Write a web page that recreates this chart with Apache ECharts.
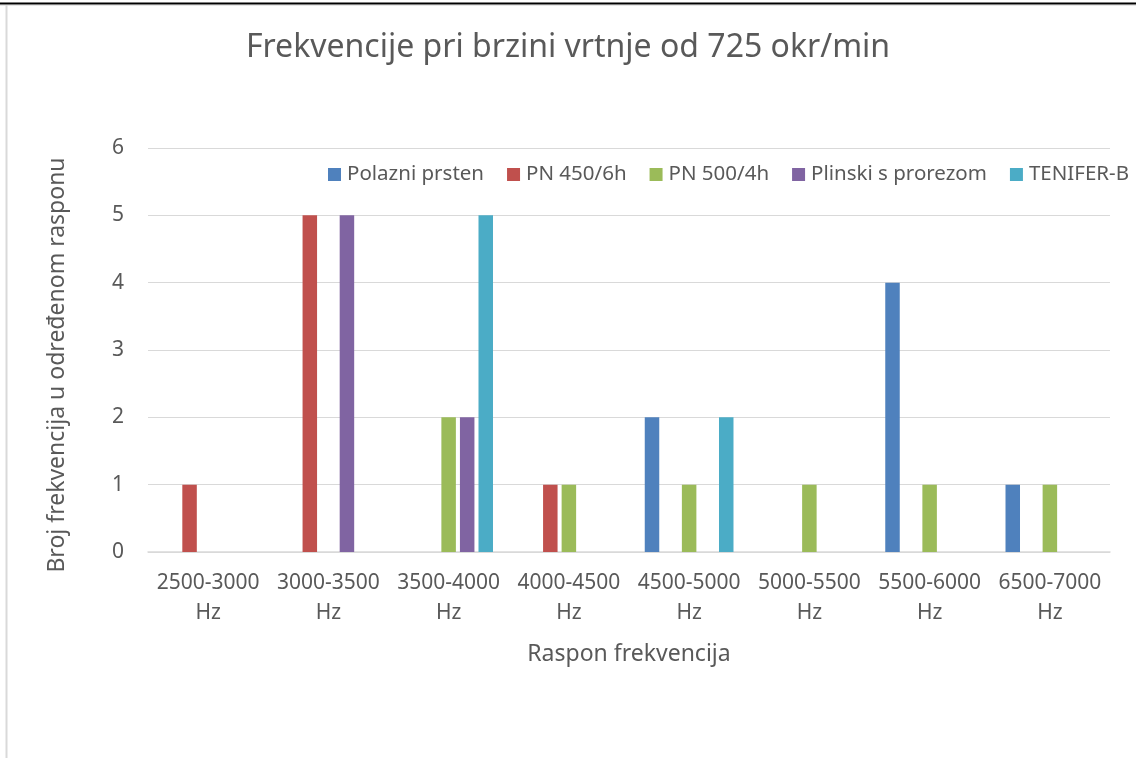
<!DOCTYPE html>
<html>
<head>
<meta charset="utf-8">
<script src="https://cdn.jsdelivr.net/npm/echarts@6/dist/echarts.min.js"></script>
<style>
  html, body { margin: 0; padding: 0; background: #ffffff; }
  #chart { width: 1136px; height: 758px; }
</style>
</head>
<body>
<div id="chart"></div>
<script>
// Frequency ranges (categories)
const categories = ['2500-3000\nHz', '3000-3500\nHz', '3500-4000\nHz', '4000-4500\nHz',
                    '4500-5000\nHz', '5000-5500\nHz', '5500-6000\nHz', '6500-7000\nHz'];

// Count of frequencies per range for each ring variant
const polazniPrsten   = [0, 0, 0, 0, 2, 0, 4, 1];
const pn450_6h        = [1, 5, 0, 1, 0, 0, 0, 0];
const pn500_4h        = [0, 0, 2, 1, 1, 1, 1, 1];
const plinskiProrez   = [0, 5, 2, 0, 0, 0, 0, 0];
const teniferB        = [0, 0, 5, 0, 2, 0, 0, 0];

const seriesNames  = ['Polazni prsten', 'PN 450/6h', 'PN 500/4h', 'Plinski s prorezom', 'TENIFER-B'];
const seriesData   = [polazniPrsten, pn450_6h, pn500_4h, plinskiProrez, teniferB];
const seriesColors = ['#4f81bd', '#c0504d', '#9bbb59', '#8064a2', '#4bacc6'];

const yTicks = { min: 0, max: 6, interval: 1 };

const textColor = '#595959';
const fontFam = '"Noto Sans", "Open Sans", sans-serif';

const chart = echarts.init(document.getElementById('chart'), null, { renderer: 'canvas' });

chart.setOption({
  backgroundColor: '#ffffff',
  animation: false,
  textStyle: { fontFamily: fontFam },
  title: {
    text: 'Frekvencije pri brzini vrtnje od 725 okr/min',
    left: 'center',
    top: 27,
    textStyle: { fontFamily: fontFam, fontSize: 32, fontWeight: 'normal', color: textColor }
  },
  legend: {
    data: seriesNames,
    left: 323,
    top: 159,
    itemWidth: 13,
    itemHeight: 13,
    itemGap: 23,
    icon: 'rect',
    textStyle: { fontFamily: fontFam, fontSize: 20.5, color: textColor, padding: [0, 0, 0, 1] }
  },
  grid: { left: 148, right: 26, top: 148, bottom: 206, containLabel: false },
  xAxis: {
    type: 'category',
    data: categories,
    name: 'Raspon frekvencija',
    nameLocation: 'middle',
    nameGap: 91,
    nameTextStyle: { fontFamily: fontFam, fontSize: 23, color: textColor },
    axisLine: { lineStyle: { color: '#d9d9d9', width: 1.5 } },
    axisTick: { show: false },
    axisLabel: { fontFamily: fontFam, fontSize: 21, color: textColor, lineHeight: 30, margin: 16, interval: 0 }
  },
  yAxis: {
    type: 'value',
    min: yTicks.min,
    max: yTicks.max,
    interval: yTicks.interval,
    name: 'Broj frekvencija u određenom rasponu',
    nameLocation: 'middle',
    nameGap: 79,
    nameTextStyle: { fontFamily: fontFam, fontSize: 23, color: textColor, padding: [0, 30, 0, 0] },
    axisLine: { show: false },
    axisTick: { show: false },
    splitLine: { lineStyle: { color: '#d9d9d9', width: 1 } },
    axisLabel: { fontFamily: fontFam, fontSize: 21, color: textColor, margin: 24 }
  },
  series: seriesNames.map((name, i) => ({
    name: name,
    type: 'bar',
    data: seriesData[i],
    barWidth: 14.5,
    barGap: '28%',
    itemStyle: { color: seriesColors[i] }
  })),
  graphic: [
    { type: 'line', shape: { x1: 0, y1: 3.5, x2: 1136, y2: 3.5 }, style: { stroke: '#000000', lineWidth: 2 }, silent: true },
    { type: 'line', shape: { x1: 0, y1: 5.5, x2: 1136, y2: 5.5 }, style: { stroke: '#e6e6e6', lineWidth: 1 }, silent: true },
    { type: 'line', shape: { x1: 6.5, y1: 5, x2: 6.5, y2: 758 }, style: { stroke: '#d9d9d9', lineWidth: 2 }, silent: true }
  ]
});
</script>
</body>
</html>
